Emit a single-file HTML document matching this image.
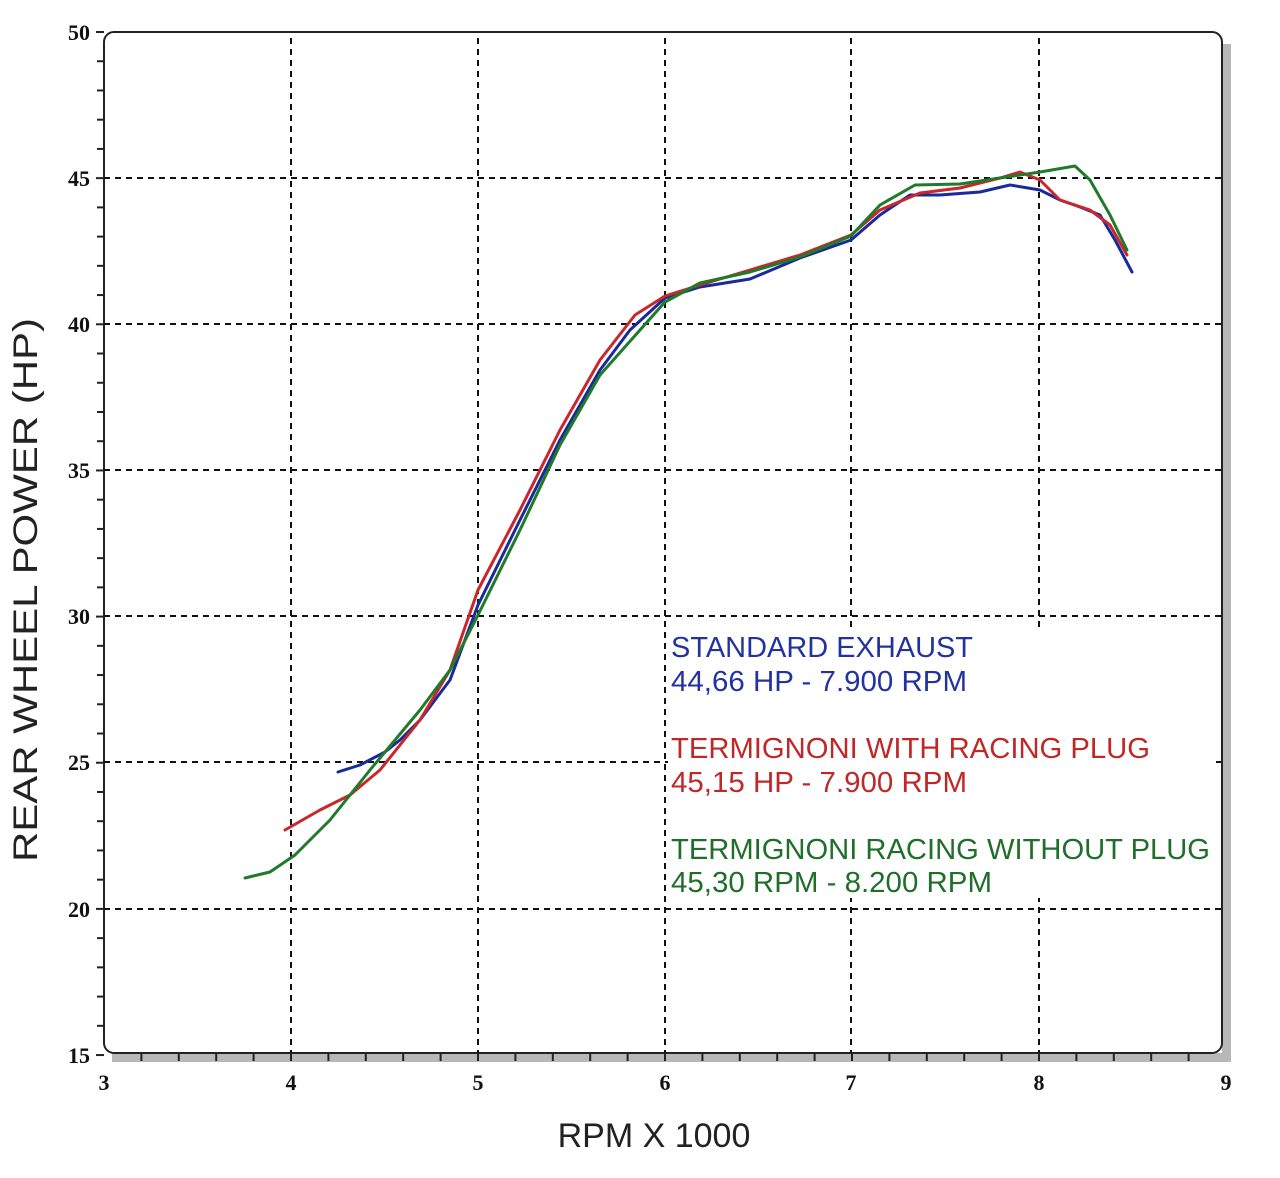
<!DOCTYPE html>
<html><head><meta charset="utf-8"><style>body{margin:0;background:#fff}</style></head><body>
<svg width="1280" height="1173" viewBox="0 0 1280 1173" xmlns="http://www.w3.org/2000/svg">
<rect width="1280" height="1173" fill="#fff"/>
<rect x="1222" y="44" width="9" height="1018" fill="#b8b8b8"/>
<rect x="112" y="1053" width="1119" height="9" fill="#b8b8b8"/>
<rect x="104" y="32" width="1118" height="1021" rx="10" fill="#fff" stroke="#222" stroke-width="2"/>
<g stroke="#111" stroke-width="2" stroke-dasharray="6,5">
<line x1="291" y1="38" x2="291" y2="1053"/><line x1="478" y1="38" x2="478" y2="1053"/><line x1="665" y1="38" x2="665" y2="1053"/><line x1="851" y1="38" x2="851" y2="1053"/><line x1="1039" y1="38" x2="1039" y2="1053"/>
<line x1="104" y1="178" x2="1222" y2="178"/><line x1="104" y1="324" x2="1222" y2="324"/><line x1="104" y1="470" x2="1222" y2="470"/><line x1="104" y1="616" x2="1222" y2="616"/><line x1="104" y1="762" x2="1222" y2="762"/><line x1="104" y1="909" x2="1222" y2="909"/>
</g>
<rect x="668" y="630" width="548" height="268" fill="#fff"/>
<g id="yt" stroke="#222" stroke-width="2"></g>
<g id="xt" stroke="#222" stroke-width="2"></g>
<g font-family="Liberation Serif, serif" font-weight="bold" font-size="22" fill="#111" text-anchor="end">
<text x="90" y="40">50</text><text x="90" y="186">45</text><text x="90" y="332">40</text><text x="90" y="478">35</text><text x="90" y="624">30</text><text x="90" y="770">25</text><text x="90" y="917">20</text><text x="90" y="1063">15</text>
</g>
<g font-family="Liberation Serif, serif" font-weight="bold" font-size="22" fill="#111" text-anchor="middle">
<text x="104" y="1090">3</text><text x="291" y="1090">4</text><text x="478" y="1090">5</text><text x="665" y="1090">6</text><text x="851" y="1090">7</text><text x="1039" y="1090">8</text><text x="1226" y="1090">9</text>
</g>
<text x="654" y="1147" font-family="Liberation Sans, sans-serif" font-size="34" fill="#222" text-anchor="middle">RPM X 1000</text>
<text transform="translate(37,590) rotate(-90)" font-family="Liberation Sans, sans-serif" font-size="34" fill="#222" text-anchor="middle" textLength="544" lengthAdjust="spacingAndGlyphs">REAR WHEEL POWER (HP)</text>
<g fill="none" stroke-width="3" stroke-linejoin="round" stroke-linecap="round">
<polyline stroke="#1a2a9a" points="338,772 360,765 385,752 400,740 420,720 450,680 478,605 520,520 560,440 600,370 630,330 665,298 700,287 750,279 800,258 851,240 880,215 910,195 940,195 980,192 1010,185 1040,190 1060,200 1080,207 1100,215 1115,240 1132,272"/>
<polyline stroke="#c8282c" points="285,830 320,810 350,795 380,770 420,720 450,670 478,590 520,510 560,430 600,360 635,315 665,296 700,285 750,270 800,255 851,235 880,210 920,193 960,188 1000,178 1020,172 1040,180 1060,200 1090,210 1110,225 1127,255"/>
<polyline stroke="#1f7a2a" points="245,878 270,872 295,855 330,820 370,770 420,710 450,670 478,615 520,530 560,445 600,375 640,330 665,302 700,283 750,272 800,257 851,236 880,205 915,185 960,184 1000,178 1040,172 1075,166 1090,180 1110,215 1127,250"/>
</g>
<g font-family="Liberation Sans, sans-serif" font-size="29" lengthAdjust="spacingAndGlyphs">
<text x="671" y="657" fill="#2233a0" textLength="302" lengthAdjust="spacingAndGlyphs">STANDARD EXHAUST</text>
<text x="671" y="691" fill="#2233a0" textLength="296" lengthAdjust="spacingAndGlyphs">44,66 HP - 7.900 RPM</text>
<text x="671" y="758" fill="#c02828" textLength="479" lengthAdjust="spacingAndGlyphs">TERMIGNONI WITH RACING PLUG</text>
<text x="671" y="792" fill="#c02828" textLength="296" lengthAdjust="spacingAndGlyphs">45,15 HP - 7.900 RPM</text>
<text x="671" y="859" fill="#1f6e2a" textLength="539" lengthAdjust="spacingAndGlyphs">TERMIGNONI RACING WITHOUT PLUG</text>
<text x="671" y="892" fill="#1f6e2a" textLength="321" lengthAdjust="spacingAndGlyphs">45,30 RPM - 8.200 RPM</text>
</g>
<script>
var ns="http://www.w3.org/2000/svg";
var yt=document.getElementById('yt');
for(var i=0;i<=35;i++){var y=32+i*29.23;var l=document.createElementNS(ns,'line');l.setAttribute('x1',i%5==0?96:97);l.setAttribute('x2',104);l.setAttribute('y1',y);l.setAttribute('y2',y);yt.appendChild(l);}
var xt=document.getElementById('xt');
for(var j=1;j<30;j++){var x=104+j*37.4;var m=document.createElementNS(ns,'line');m.setAttribute('x1',x);m.setAttribute('x2',x);m.setAttribute('y1',1053);m.setAttribute('y2',1061);xt.appendChild(m);}
</script>
</svg>
</body></html>
